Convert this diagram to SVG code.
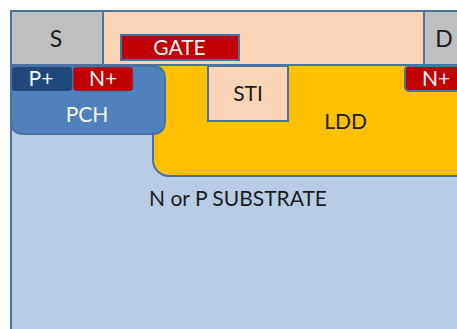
<svg xmlns="http://www.w3.org/2000/svg" width="457" height="329" viewBox="0 0 457 329">
<style>
.s{stroke:#4a73a3;stroke-width:2}
.t{font-family:"Lato","Open Sans","Liberation Sans",sans-serif;font-size:21px;text-anchor:middle}
.b{font-size:23px}
.k{fill:#1c1c1c}.w{fill:#f4f4f4}
</style>
<rect width="457" height="329" fill="#fff"/>
<g id="substrate"><rect class="s" x="11" y="11" width="460" height="330" fill="#b8cce4"/><text class="t k" x="238" y="206">N or P SUBSTRATE</text></g>
<g id="ldd"><rect class="s" x="153" y="60" width="320" height="116" rx="16" fill="#ffc000"/><text class="t k" x="345.500" y="129">LDD</text></g>
<g id="oxide"><rect class="s" x="103" y="11" width="321" height="54" fill="#fbd5b5"/></g>
<g id="s"><rect class="s" x="11" y="11" width="92" height="54" fill="#bfbfbf"/><text class="t b k" x="56" y="47">S</text></g>
<g id="d"><rect class="s" x="424" y="11" width="40" height="54" fill="#bfbfbf"/><text class="t b k" x="444" y="47">D</text></g>
<g id="gate"><rect class="s" x="121" y="35" width="118" height="25" fill="#c00000"/><text class="t w" x="179.500" y="55">GATE</text></g>
<g id="sti"><rect class="s" x="208" y="66" width="80" height="55" fill="#fbd5b5"/><text class="t k" x="248" y="101">STI</text></g>
<g id="pch"><path class="s" d="M11 66H152Q165 66 165 79V121Q165 134 152 134H24Q11 134 11 121Z" fill="#4f81bd"/><text class="t w" x="87" y="122">PCH</text></g>
<g id="pplus"><rect x="12" y="67" width="60" height="24" rx="3" fill="#1f497d"/><text class="t w" x="41" y="86">P+</text></g>
<g id="nplus-left"><rect x="73" y="67" width="60" height="24" rx="3" fill="#c00000" stroke="#3f6797"/><text class="t w" x="103" y="86">N+</text></g>
<g id="nplus-right"><rect class="s" x="405" y="66" width="70" height="25" rx="4" fill="#c00000"/><text class="t w" x="436" y="86">N+</text></g>
<g id="connectors"></g>
</svg>
